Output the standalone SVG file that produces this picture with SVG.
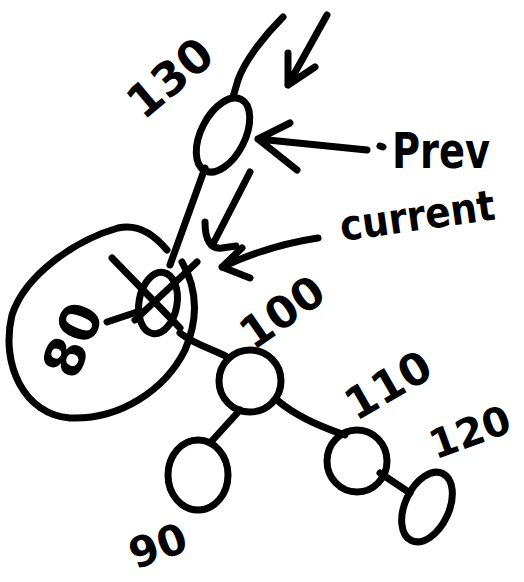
<svg xmlns="http://www.w3.org/2000/svg" width="524" height="582" viewBox="0 0 524 582">
<style>
.s{fill:none;stroke:#000;stroke-width:7;stroke-linecap:round;stroke-linejoin:round}
.t{font-family:"DejaVu Sans","Liberation Sans",sans-serif;font-weight:bold;fill:#000}
</style>
<rect width="524" height="582" fill="#fff"/>
<g id="connectors">
<path class="s" d="M283,17 C265,35 245,60 238,80 L233,97"/>
<path class="s" d="M205,168 L170,265"/>
<path class="s" d="M107,322 L137,312"/>
<path class="s" d="M180,333 C195,345 215,350 227,357"/>
<path class="s" d="M240,410 L210,443"/>
<path class="s" d="M277,400 Q300,420 345,435"/>
<path class="s" d="M380,473 L410,493"/>
</g>
<g id="pointers">
<path class="s" d="M327,15 L288,85 M288,53 L288,85 L315,67"/>
<path class="s" d="M367,150 L258,139 M290,123 L258,139 L297,170 M380,146 L383,147"/>
<path class="s" d="M250,172 L213,244 M205,222 Q205,250 222,248 L236,246"/>
<path class="s" d="M318,238 Q270,245 222,267 M242,248 L222,267 L250,278"/>
</g>
<g id="node-130">
<ellipse class="s" cx="223" cy="135" rx="22" ry="40" transform="rotate(27 223 135)"/>
<text class="t" x="170" y="78" font-size="46" text-anchor="middle" dominant-baseline="central" transform="rotate(-40 170 78)">130</text>
</g>
<g id="node-80">
<path class="s" d="M167,250 C152,232 135,224 118,228 C75,240 25,275 12,315 C0,365 25,415 70,418 C120,420 165,390 185,350 C198,320 198,290 182,262"/>
<ellipse class="s" cx="158" cy="303" rx="19" ry="31" transform="rotate(10 158 303)"/>
<path class="s" d="M112,258 L180,328 M197,262 L135,320"/>
<text class="t" x="73" y="340" font-size="54" text-anchor="middle" dominant-baseline="central" transform="rotate(-68 73 340)">80</text>
</g>
<g id="node-100">
<circle class="s" cx="250" cy="381" r="31"/>
<text class="t" x="282" y="312" font-size="44" text-anchor="middle" dominant-baseline="central" transform="rotate(-35 282 312)">100</text>
</g>
<g id="node-90">
<ellipse class="s" cx="198" cy="475" rx="30" ry="35"/>
<text class="t" x="158" y="546" font-size="42" text-anchor="middle" dominant-baseline="central" transform="rotate(-20 158 546)">90</text>
</g>
<g id="node-110">
<ellipse class="s" cx="357" cy="461" rx="30" ry="31"/>
<text class="t" x="388" y="385" font-size="44" text-anchor="middle" dominant-baseline="central" transform="rotate(-30 388 385)">110</text>
</g>
<g id="node-120">
<ellipse class="s" cx="427" cy="507" rx="22" ry="37" transform="rotate(25 427 507)"/>
<text class="t" x="470" y="432" font-size="40" text-anchor="middle" dominant-baseline="central" transform="rotate(-20 470 432)">120</text>
</g>
<g id="label-prev">
<text class="t" x="392" y="168" font-size="50" textLength="98" lengthAdjust="spacingAndGlyphs">Prev</text>
</g>
<g id="label-current">
<text class="t" x="342" y="241" font-size="42" textLength="156" lengthAdjust="spacingAndGlyphs" transform="rotate(-8 342 241)">current</text>
</g>
</svg>
